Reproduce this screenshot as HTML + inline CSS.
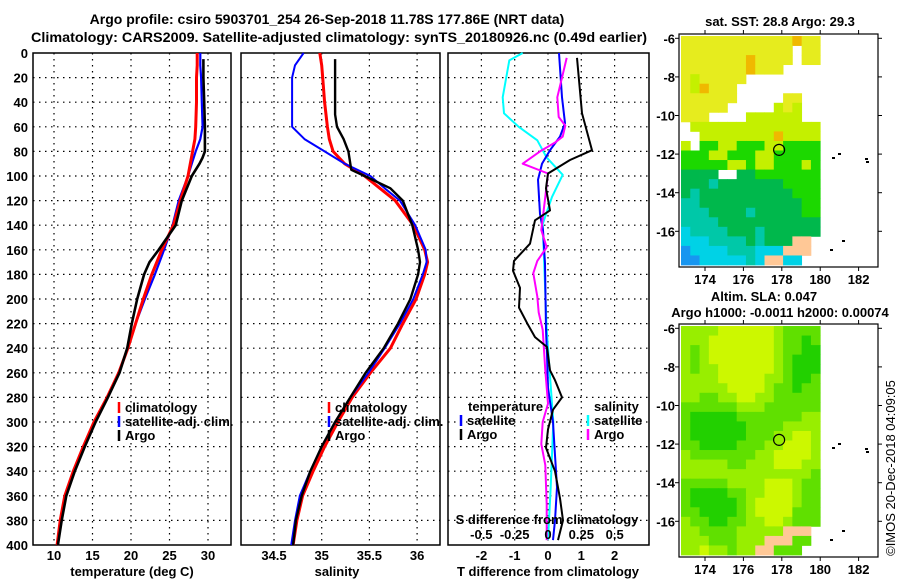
<!DOCTYPE html>
<html><head><meta charset="utf-8"><style>
html,body{margin:0;padding:0;background:#fff;}
svg{display:block;font-family:"Liberation Sans",sans-serif;font-weight:bold;}
</style></head><body>
<svg id="chart" width="900" height="580" viewBox="0 0 900 580" xmlns="http://www.w3.org/2000/svg">
<rect width="900" height="580" fill="#fff"/>
<text x="327" y="24" font-size="14" text-anchor="middle">Argo profile: csiro 5903701_254 26-Sep-2018 11.78S 177.86E (NRT data)</text>
<text x="339" y="42" font-size="14" text-anchor="middle" textLength="616" lengthAdjust="spacingAndGlyphs">Climatology: CARS2009. Satellite-adjusted climatology: synTS_20180926.nc (0.49d earlier)</text>
<g id="plots"></g>
<text x="780" y="26" font-size="13" text-anchor="middle">sat. SST: 28.8 Argo: 29.3</text>
<text x="764" y="301" font-size="13" text-anchor="middle">Altim. SLA: 0.047</text>
<text x="780" y="317" font-size="13" text-anchor="middle">Argo h1000: -0.0011 h2000: 0.00074</text>
<text transform="translate(895,468) rotate(-90)" font-size="13" font-weight="normal" text-anchor="middle">©IMOS 20-Dec-2018 04:09:05</text>
</svg>
<script>
// ---------- data ----------
const depthTicks = [0,20,40,60,80,100,120,140,160,180,200,220,240,260,280,300,320,340,360,380,400];
const tempTicks = [10,15,20,25,30];
const salTicks = [34.5,35,35.5,36];
const tdiffTicks = [-2,-1,0,1,2];
const sdiffTicks = [-0.5,-0.25,0,0.25,0.5];
const sdiffTickLabels = ["-0.5","-0.25","0","0.25","0.5"];

const climDepth = [0,10,20,40,60,70,80,90,100,120,140,160,180,200,220,240,260,280,300,320,340,360,380,400];
const tempClim = [28.6,28.6,28.5,28.5,28.4,28.3,28.0,27.7,27.4,26.4,25.5,24.0,22.7,21.6,20.6,19.6,18.4,16.9,15.2,13.8,12.5,11.4,10.8,10.4];
const tempSat  = [29.0,29.0,29.1,29.2,29.3,29.0,28.4,27.9,27.4,26.2,25.4,24.3,23.1,21.8,20.6,19.6,18.4,16.9,15.3,13.9,12.6,11.5,10.9,10.5];
const argoTDepth = [5,20,40,60,70,80,85,90,100,120,140,160,170,180,200,220,240,260,280,300,320,340,360,380,400];
const tempArgo = [29.4,29.4,29.5,29.6,29.6,29.6,29.3,28.9,27.9,26.6,25.8,23.6,22.4,21.7,20.8,20.1,19.5,18.5,17.0,15.4,14.0,12.7,11.6,11.0,10.5];

const salDepth = [0,10,20,40,60,70,80,90,100,110,120,140,160,170,180,200,220,240,260,280,300,320,340,360,380,400];
const salClim = [34.98,35.00,35.01,35.03,35.06,35.08,35.12,35.24,35.45,35.61,35.77,35.96,36.08,36.11,36.08,35.99,35.85,35.72,35.51,35.32,35.17,35.03,34.91,34.80,34.74,34.70];
const salSat  = [34.81,34.72,34.69,34.69,34.69,34.82,35.03,35.24,35.51,35.66,35.82,35.98,36.09,36.10,36.06,35.96,35.82,35.66,35.49,35.30,35.14,35.00,34.88,34.77,34.72,34.68];
const argoSDepth = [5,20,40,50,60,70,80,90,95,100,110,120,140,160,170,180,200,220,240,260,280,300,320,340,360,380,400];
const salArgo = [35.14,35.14,35.14,35.14,35.16,35.23,35.28,35.30,35.31,35.45,35.72,35.85,35.95,36.01,36.03,36.01,35.93,35.80,35.65,35.46,35.30,35.14,35.00,34.88,34.79,34.73,34.70];

const tSatDiffDepth = [0,36,57,68,79,90,103,131,144,171,225,245,272,300,327,353,380,396];
const tSatDiff = [0.33,0.42,0.51,0.36,0.06,-0.18,-0.30,-0.24,-0.15,-0.09,-0.06,-0.03,0.0,0.15,0.21,0.27,0.21,0.15];
const tArgoDiffDepth = [4,49,79,87,98,110,128,136,155,169,177,191,207,221,231,239,258,266,280,290,306,321,340,362,380,396];
const tArgoDiff = [0.87,1.02,1.32,0.66,0.0,-0.06,0.06,-0.39,-0.54,-1.02,-1.05,-0.84,-0.87,-0.6,-0.39,-0.03,0.06,0.21,0.42,0.15,0.0,-0.06,0.21,0.36,0.45,0.30];
const sSatDiffDepth = [0,6,36,49,60,71,85,99,117,139,225,300,353,396];
const sSatDiff = [-0.19,-0.29,-0.34,-0.33,-0.22,-0.08,-0.01,0.11,0.03,-0.04,-0.01,0.04,0.02,0.0];
const sArgoDiffDepth = [4,36,52,59,68,73,80,90,98,117,144,158,169,179,198,211,225,258,285,300,318,335,367,396];
const sArgoDiff = [0.14,0.07,0.08,0.13,0.11,0.05,-0.06,-0.19,0.0,-0.02,-0.05,-0.01,-0.08,-0.11,-0.08,-0.07,-0.04,-0.02,0.0,-0.04,-0.05,-0.02,-0.01,-0.01];

const latTicks = [-6,-8,-10,-12,-14,-16];
const lonTicks = [174,176,178,180,182];
const argoLon = 177.86, argoLat = -11.78;
const sstGrid = [
"YYYYYYYYYYYYOYY","YYYYYYYYYYYYWYY","YYYYYYYOYYYYWYY","YYYYYYYOYYYWWWW",
"YLYYYYYWWWWWWWW","YLOYYYWWWWWWWWW","YYYYYYWWWWWYYWW","YYYYYWWWWWLYLWW",
"YYYWWWWLLLLLLWW","WLLLLLLLLLLLLLL","WWLLLLLLLLOLLLL","LWGGLLGGGLLGGGG",
"GGGLLGGGLLGGGGG","GGGGGLLGLLGGGLG","DDDDWWDDGGGGGGG","DDDTDDDDDDDGGGG",
"DTDDDDDDDDDDGGG","TTDDDDDDDDDDDGG","TTTDDDDTDDDDDGG","TTTTDDDDDDDDDDD",
"CTTTTDDDTDDDDDD","CCCTTTTDTDDDSSW","BCCCCTTTCCCSSSW","BBCCCCCTCSSCCWW"];
const slaGrid = [
"LLLLYYYYYYLGGGG","LLLYYYYYYYLGGDG","LGLYYYYYYYLGGDD","LGLYYYYYYYLGDDD",
"LGLLYYYYYYLGDDD","LLLLYYYYYLLGDDG","LLLLLYYYYLGGDGG","LLGGLLYYLLGGGGG",
"GGGGGGLLLGGGGGG","GDDDDDGGGGGGGLL","GDDDDDDGGGGLLLL","GDDDDDDGGGLLYYL",
"GGDDDDGGGLLYYYL","LGGGGGGGLLYYYYL","LLLLLGGLLLYYYLL","LLLLLLLLLLLLLLG",
"GGGGGLLLLYYYLGG","GDDDDGGLLYYYLGG","GDDDDDGLYYYYLGG","GGDDDDGLYYYYGGG",
"LGGDDGGLLYYLGGG","LLGGGGLLLLLSSSW","LLLGGGLLLSSSGGW","LLYLLGLLSSGGGWW"];
const sstColors = {Y:"#e6ec1e",O:"#f0b800",L:"#c4f000",G:"#1cd800",D:"#00b84c",T:"#00c8a8",C:"#00d2e6",B:"#1896f0",W:"#ffffff",S:"#ffc896"};
const slaColors = {Y:"#ccf800",L:"#98ee00",G:"#60e000",D:"#22d000",W:"#ffffff",S:"#ffc896"};

// ---------- helpers ----------
const NS = "http://www.w3.org/2000/svg";
const root = document.getElementById("plots");
function mk(tag, attrs, parent){
  const e = document.createElementNS(NS, tag);
  for (const k in attrs) e.setAttribute(k, attrs[k]);
  (parent||root).appendChild(e);
  return e;
}
const TOP = 53, BOT = 545;
const yD = d => TOP + (BOT-TOP)*d/400;
const xT = v => 54 + (v-10)*7.7;
const xS = v => 274 + (v-34.5)*95.4;
const xTd = v => 548 + v*33.3;
const xSd = v => 548 + v*133.3;
const panels = [[33,231],[241,440],[448,649]];

function frame(px, name){
  const [l,r] = px;
  const g = mk("g", {});
  
  
  for (const d of depthTicks){
    if (d===0||d===400) continue;
    const ln = mk("line",{x1:l,x2:r,y1:yD(d),y2:yD(d),stroke:"#000","stroke-width":1.2,"stroke-dasharray":"1.5,4.5"},g);
    
    
  }
  return g;
}
function vgrid(g, ticks, fx, l, r){
  for (const t of ticks){
    const x = fx(t);
    if (x<=l||x>=r) continue;
    const ln = mk("line",{x1:x,x2:x,y1:TOP,y2:BOT,stroke:"#000","stroke-width":1.2,"stroke-dasharray":"1.5,4.5"},g);
    
    
  }
}
function border(g,l,r){
  const b = mk("rect",{x:l,y:TOP,width:r-l,height:BOT-TOP,fill:"none",stroke:"#000","stroke-width":1.5},g);
  
  
}
function line(vals, depths, fx, color, w, name){
  const pts = vals.map((v,i)=> fx(v).toFixed(1)+","+yD(depths[i]).toFixed(1)).join(" ");
  const p = mk("polyline",{points:pts,fill:"none",stroke:color,"stroke-width":w,"stroke-linejoin":"round"});
  
  
}
function text(x,y,s,opts,name){
  const t = mk("text",Object.assign({x:x,y:y,"font-size":13},opts||{}));
  t.textContent = s;
  
  
  return t;
}
function legendEntry(x,y,color,label,name){
  const m = mk("line",{x1:x,x2:x,y1:y-10,y2:y+1,stroke:color,"stroke-width":2.5});
  
  
  text(x+6,y,label,{},name);
}

// panel 1 temperature
let g1 = frame(panels[0],"temperature-panel");
vgrid(g1,tempTicks,xT,33,231);
line(tempSat, climDepth, xT, "#0000ff", 2.2, "temperature-satellite-line");
line(tempClim, climDepth, xT, "#ff0000", 3, "temperature-climatology-line");
line(tempArgo, argoTDepth, xT, "#000", 2.6, "temperature-argo-line");
border(g1,33,231);
depthTicks.forEach(d=> text(28,yD(d)+5,String(d),{"text-anchor":"end"},"depth-tick-label"));
tempTicks.forEach(t=> text(xT(t),560,String(t),{"text-anchor":"middle"},"temperature-tick-label"));
text(132,576,"temperature (deg C)",{"text-anchor":"middle"},"temperature-axis-title");
legendEntry(119,412,"#ff0000","climatology","legend-climatology");
legendEntry(119,426,"#0000ff","satellite-adj. clim.","legend-satellite-adj");
legendEntry(119,440,"#000","Argo","legend-argo");

// panel 2 salinity
let g2 = frame(panels[1],"salinity-panel");
vgrid(g2,salTicks,xS,241,440);
line(salClim, salDepth, xS, "#ff0000", 3, "salinity-climatology-line");
line(salSat, salDepth, xS, "#0000ff", 2, "salinity-satellite-line");
line(salArgo, argoSDepth, xS, "#000", 2.4, "salinity-argo-line");
border(g2,241,440);
salTicks.forEach(t=> text(xS(t),560,String(t),{"text-anchor":"middle"},"salinity-tick-label"));
text(337,576,"salinity",{"text-anchor":"middle"},"salinity-axis-title");
legendEntry(329,412,"#ff0000","climatology","legend-sal-climatology");
legendEntry(329,426,"#0000ff","satellite-adj. clim.","legend-sal-satellite-adj");
legendEntry(329,440,"#000","Argo","legend-sal-argo");

// panel 3 differences
let g3 = frame(panels[2],"difference-panel");
vgrid(g3,tdiffTicks,xTd,448,649);
line(sSatDiff, sSatDiffDepth, xSd, "#00ffff", 2, "salinity-satellite-diff-line");
line(tSatDiff, tSatDiffDepth, xTd, "#0000ff", 2, "temperature-satellite-diff-line");
line(sArgoDiff, sArgoDiffDepth, xSd, "#ff00ff", 2, "salinity-argo-diff-line");
line(tArgoDiff, tArgoDiffDepth, xTd, "#000", 2, "temperature-argo-diff-line");
border(g3,448,649);
tdiffTicks.forEach(t=> text(xTd(t),560,String(t),{"text-anchor":"middle"},"tdiff-tick-label"));
text(548,576,"T difference from climatology",{"text-anchor":"middle"},"tdiff-axis-title");
sdiffTicks.forEach((t,i)=> text(xSd(t),539,sdiffTickLabels[i],{"text-anchor":"middle"},"sdiff-tick-label"));
text(547,524,"S difference from climatology",{"text-anchor":"middle"},"sdiff-axis-title");
text(468,411,"temperature",{},"legend-temperature-header");
legendEntry(461,425,"#0000ff","satellite","legend-t-satellite");
legendEntry(461,439,"#000","Argo","legend-t-argo");
text(594,411,"salinity",{},"legend-salinity-header");
legendEntry(588,425,"#00ffff","satellite","legend-s-satellite");
legendEntry(588,439,"#ff00ff","Argo","legend-s-argo");

// ---------- maps ----------
const MX0 = 679, MX1 = 878;
const xLon = lon => 705 + (lon-174)*19.2;
function map(top, grid, colors, name){
  const yLat = lat => top+4.3 + (-6-lat)*19.3;
  const g = mk("g",{});
  
  
  const x0 = 681, x1 = xLon(180), y0 = top+2, y1 = top+231;
  const cw = (x1-x0)/15, ch = (y1-y0)/24;
  grid.forEach((row,r)=>{
    for (let c=0;c<row.length;c++){
      const col = colors[row[c]];
      if (col==="#ffffff") continue;
      const cell = mk("rect",{x:(x0+c*cw).toFixed(2),y:(y0+r*ch).toFixed(2),width:(cw+0.4).toFixed(2),height:(ch+0.4).toFixed(2),fill:col},g);
      
      
    }
  });
  const fr = mk("rect",{x:MX0,y:top,width:MX1-MX0,height:233,fill:"none",stroke:"#000","stroke-width":1.2},g);
  
  
  latTicks.forEach(l=>{
    const y = yLat(l);
    mk("line",{x1:MX0-4,x2:MX0,y1:y,y2:y,stroke:"#000"},g);
    mk("line",{x1:MX1,x2:MX1+4,y1:y,y2:y,stroke:"#000"},g);
    text(675,y+5,String(l),{"text-anchor":"end"},"latitude-tick-label");
  });
  lonTicks.forEach(l=>{
    const x = xLon(l);
    mk("line",{x1:x,x2:x,y1:top+233,y2:top+237,stroke:"#000"},g);
    mk("line",{x1:x,x2:x,y1:top-4,y2:top,stroke:"#000"},g);
    text(x,top+250,String(l),{"text-anchor":"middle"},"longitude-tick-label");
  });
  const c = mk("circle",{cx:xLon(argoLon),cy:yLat(argoLat),r:5.5,fill:"none",stroke:"#000","stroke-width":1.2},g);
  
  
  [[838,157],[832,161],[865,162],[866,165],[830,253],[842,244]].forEach(p=>{
    const s = mk("rect",{x:p[0],y:top-34+p[1]-4,width:3,height:2,fill:"#000"},g);
    
    
  });
}
map(34, sstGrid, sstColors, "sst-map");
map(324, slaGrid, slaColors, "sla-map");
</script>
</body></html>
